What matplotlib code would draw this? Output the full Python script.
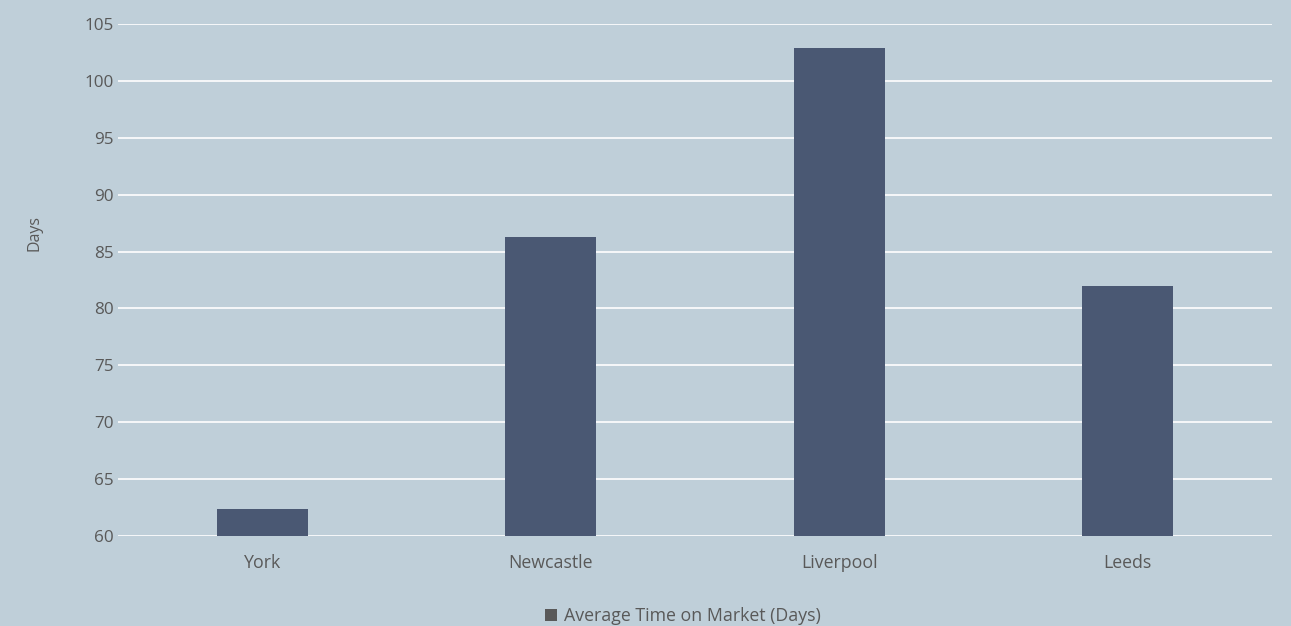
import matplotlib
matplotlib.use("Agg")
import matplotlib.pyplot as plt
from matplotlib.patches import Patch

categories = ["York", "Newcastle", "Liverpool", "Leeds"]
values = [62.4, 86.3, 102.9, 82.0]
series_name = "Average Time on Market (Days)"
yticks = [60, 65, 70, 75, 80, 85, 90, 95, 100, 105]

BG = "#bfcfd9"
BAR = "#4a5873"
TXT = "#595959"
FONT = ["Open Sans", "DejaVu Sans"]

plt.rcParams["font.family"] = FONT

fig = plt.figure(figsize=(12.91, 6.26), dpi=100, facecolor=BG)
ax = fig.add_axes([118/1291, 1-536/626, (1272-118)/1291, (536-24)/626])
ax.set_facecolor(BG)

x = range(len(categories))
ax.bar(x, values, width=0.315, color=BAR, zorder=3)
ax.set_xlim(-0.5, len(categories)-0.5)
ax.set_ylim(60, 105)
ax.set_yticks(yticks)
ax.set_xticks(list(x))
ax.set_xticklabels(categories)
ax.grid(axis="y", color="white", linewidth=1.2, zorder=0)
for s in ax.spines.values():
    s.set_visible(False)
ax.tick_params(axis="x", length=0, colors=TXT, labelsize=12.8, pad=13)
ax.tick_params(axis="y", length=0, colors=TXT, labelsize=12.3, pad=3)

fig.text(35/1291, 1-233/626, "Days", rotation=90, ha="center", va="center",
         color=TXT, fontsize=11.5)

handle = Patch(facecolor="#595959", edgecolor="none")
fig.legend([handle], [series_name], loc="center", bbox_to_anchor=(683/1291, 1-616/626),
           frameon=False, fontsize=12.8, labelcolor=TXT, handlelength=0.7, handleheight=0.7,
           handletextpad=0.4)

fig.savefig("out.png", dpi=100, facecolor=BG)
